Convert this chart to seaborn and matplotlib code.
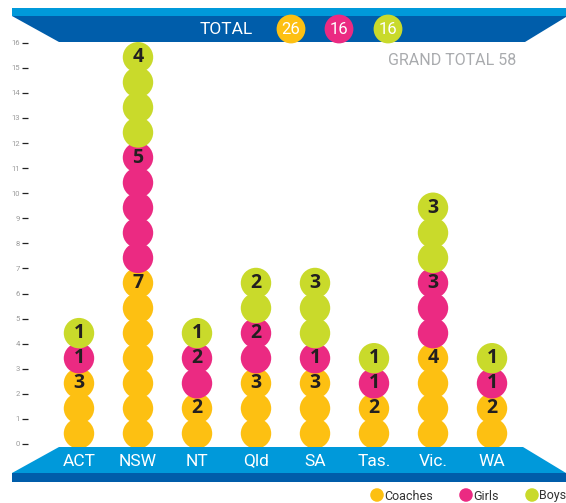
import pandas as pd
import matplotlib.pyplot as plt
import matplotlib.transforms as mtransforms
from matplotlib.patches import Polygon, Rectangle
import seaborn as sns

# Data
states = ['ACT', 'NSW', 'NT', 'Qld', 'SA', 'Tas.', 'Vic.', 'WA']
coaches = [3, 7, 2, 3, 3, 2, 4, 2]
girls = [1, 5, 2, 2, 1, 1, 3, 1]
boys = [1, 4, 1, 2, 3, 1, 3, 1]
groups = ['Coaches', 'Girls', 'Boys']
yticks = list(range(0, 17))

colors = {'Coaches': '#FDC012', 'Girls': '#EB2A82', 'Boys': '#C9DA2B'}
light_blue = '#0099DA'
dark_blue = '#005DAA'

sns.set_style('white')
plt.rcParams['font.family'] = ['Roboto', 'DejaVu Sans']

# one row per circle, stacked from the bottom
rows = []
labels = []
counts = {'Coaches': coaches, 'Girls': girls, 'Boys': boys}
for i, st in enumerate(states):
    level = 0
    for g in groups:
        n = counts[g][i]
        for k in range(n):
            rows.append({'state': st, 'group': g, 'y': level + k + 0.42})
        labels.append((i, level + n - 1 + 0.42, n))
        level += n
df = pd.DataFrame(rows).sort_values('y', kind='stable')

fig = plt.figure(figsize=(5.66, 5.03), dpi=100)
ax = fig.add_axes([28 / 566, 59 / 503, 520 / 566, 401.3 / 503])

sns.scatterplot(data=df, x='state', y='y', hue='group', palette=colors,
                s=480, linewidth=0, legend=False, ax=ax, clip_on=False, alpha=1)

for x, y, n in labels:
    ax.text(x, y, str(n), ha='center', va='center', fontsize=14,
            fontweight='bold', color='#231F20', family=['Open Sans', 'DejaVu Sans'])

ax.set_xlim(-0.864, 7.949)
ax.set_ylim(0, 16)
ax.set_yticks(yticks)
ax.set_yticklabels([str(t) for t in yticks], fontsize=5.5, color='#9a9a9a')
ax.tick_params(axis='y', left=True, length=4.3, width=0.9, color='#222222', pad=1.5)
ax.set_xticks([])
ax.set_xlabel('')
ax.set_ylabel('')
sns.despine(ax=ax, left=True, bottom=True)

# overlay in pixel coordinates for the banners
ov = fig.add_axes([0, 0, 1, 1])
ov.set_xlim(0, 566)
ov.set_ylim(503, 0)
ov.axis('off')

ov.add_patch(Rectangle((12, 8), 554, 8, color=light_blue, lw=0))
ov.add_patch(Polygon([(12, 16), (566, 16), (566, 17), (525, 42), (59, 42)],
                     closed=True, color=dark_blue, lw=0))
ov.add_patch(Polygon([(59, 447), (523, 447), (566, 473), (12, 473)],
                     closed=True, color=light_blue, lw=0))
ov.add_patch(Rectangle((12, 473), 554, 9, color=dark_blue, lw=0))

# category labels on the bottom band
trans = mtransforms.blended_transform_factory(ax.transData, ov.transData)
for i, st in enumerate(states):
    ov.text(i, 461, st, transform=trans, ha='center', va='center',
            fontsize=12.5, color='white', zorder=5)

# totals
ov.text(226, 29, 'TOTAL', ha='center', va='center', fontsize=12.5, color='white')
tot_x = [291, 339, 388]
totals = [sum(coaches), sum(girls), sum(boys)]
ov.scatter(tot_x, [29, 29, 29], s=430, c=[colors[g] for g in groups], lw=0, zorder=4)
for x, t in zip(tot_x, totals):
    ov.text(x, 29.5, str(t), ha='center', va='center', fontsize=12,
            color='white', zorder=5)

ov.text(516, 60, f'GRAND TOTAL {sum(totals)}', ha='right', va='center',
        fontsize=11.5, color='#A9ABAE')

# legend
leg_x = [377, 466, 532]
ov.scatter(leg_x, [495, 495, 495], s=95, c=[colors[g] for g in groups], lw=0)
for x, g in zip(leg_x, groups):
    ov.text(x + 7, 496, g, ha='left', va='center', fontsize=9, color='#333333')

plt.savefig('out.png', dpi=100)
